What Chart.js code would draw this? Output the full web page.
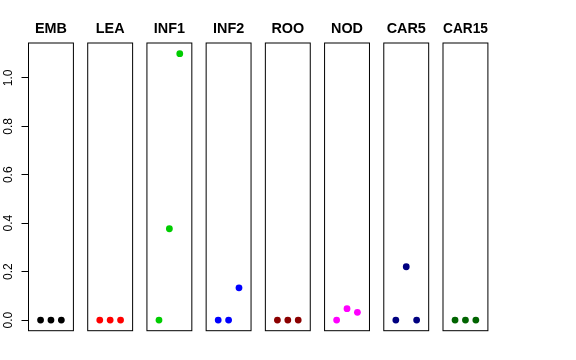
<!DOCTYPE html>
<html>
<head>
<meta charset="utf-8">
<script src="https://cdn.jsdelivr.net/npm/chart.js@4/dist/chart.umd.min.js"></script>
<style>
  html, body { margin: 0; padding: 0; background: #ffffff; }
  #wrap { position: relative; width: 576px; height: 360px; }
</style>
</head>
<body>
<div id="wrap"><canvas id="c" width="576" height="360"></canvas></div>
<script>
// ---- data ----
const categories = ['EMB', 'LEA', 'INF1', 'INF2', 'ROO', 'NOD', 'CAR5', 'CAR15'];
const seriesColors = ['#000000', '#FF0000', '#00CD00', '#0000FF', '#8B0000', '#FF00FF', '#000080', '#006400'];
const xPositions = [1, 2, 3];
const embValues  = [0, 0, 0];
const leaValues  = [0, 0, 0];
const inf1Values = [0, 0.377, 1.1];
const inf2Values = [0, 0, 0.133];
const rooValues  = [0, 0, 0];
const nodValues  = [0, 0.047, 0.032];
const car5Values = [0, 0.22, 0];
const car15Values = [0, 0, 0];
const yTickValues = [0, 0.2, 0.4, 0.6, 0.8, 1.0];

const seriesValues = [embValues, leaValues, inf1Values, inf2Values, rooValues, nodValues, car5Values, car15Values];

// ---- layout constants ----
const PANEL_W = 44.9;
const GAP_W = 14.31;
const X_MIN = -0.16, X_MAX = 4.16;
const Y_MIN = -0.044, Y_MAX = 1.144;
const FONT = "'Liberation Sans', Arial, Helvetica, sans-serif";

const datasets = categories.map((cat, i) => ({
  label: cat,
  data: xPositions.map((x, j) => ({ x: x, y: seriesValues[i][j] })),
  xAxisID: 'x' + i,
  yAxisID: 'y',
  backgroundColor: seriesColors[i],
  borderColor: seriesColors[i],
  pointRadius: 3.4,
  pointHoverRadius: 3.4,
  pointBorderWidth: 0,
  showLine: false
}));

const scales = {};
categories.forEach((cat, i) => {
  scales['x' + i] = {
    type: 'linear',
    position: 'top',
    stack: 'panels',
    stackWeight: PANEL_W,
    weight: 100 - 2 * i,
    min: X_MIN,
    max: X_MAX,
    grid: { display: false },
    border: { display: false },
    ticks: { display: false },
    title: {
      display: true,
      text: cat,
      color: '#000000',
      font: { family: FONT, size: 14.4, weight: 'bold', lineHeight: 1.2 },
      padding: { top: 20.4, bottom: 0 }
    },
    afterFit: (s) => { s.height = 43; }
  };
  if (i < categories.length - 1) {
    scales['g' + i] = {
      type: 'linear',
      position: 'top',
      stack: 'panels',
      stackWeight: GAP_W,
      weight: 99 - 2 * i,
      display: false,
      min: 0,
      max: 1
    };
  }
});
scales.y = {
  type: 'linear',
  position: 'left',
  min: Y_MIN,
  max: Y_MAX,
  afterBuildTicks: (s) => { s.ticks = yTickValues.map(v => ({ value: v })); },
  afterFit: (s) => { s.width = 28.5; },
  grid: {
    display: true,
    drawOnChartArea: false,
    drawTicks: true,
    tickLength: 7,
    color: '#000000',
    lineWidth: 1
  },
  border: { display: true, color: '#000000', width: 1 },
  ticks: {
    color: '#000000',
    font: { family: FONT, size: 12 },
    minRotation: 90,
    maxRotation: 90,
    crossAlign: 'center',
    padding: 4.5,
    callback: (v) => Number(v).toFixed(1)
  }
};

const panelFrames = {
  id: 'panelFrames',
  beforeDatasetsDraw(chart) {
    const ctx = chart.ctx;
    const area = chart.chartArea;
    ctx.save();
    ctx.strokeStyle = '#000000';
    ctx.lineWidth = 1;
    categories.forEach((cat, i) => {
      const sx = chart.scales['x' + i];
      const left = sx.getPixelForValue(X_MIN);
      const right = sx.getPixelForValue(X_MAX);
      ctx.strokeRect(left, area.top, right - left, area.bottom - area.top);
    });
    ctx.restore();
  }
};

new Chart(document.getElementById('c'), {
  type: 'scatter',
  data: { datasets: datasets },
  options: {
    responsive: false,
    animation: false,
    events: [],
    layout: { padding: { top: 0, left: 0, right: 576 - 487.9, bottom: 360 - 330.7 } },
    plugins: {
      legend: { display: false },
      title: { display: false },
      tooltip: { enabled: false }
    },
    scales: scales
  },
  plugins: [panelFrames]
});
</script>
</body>
</html>
